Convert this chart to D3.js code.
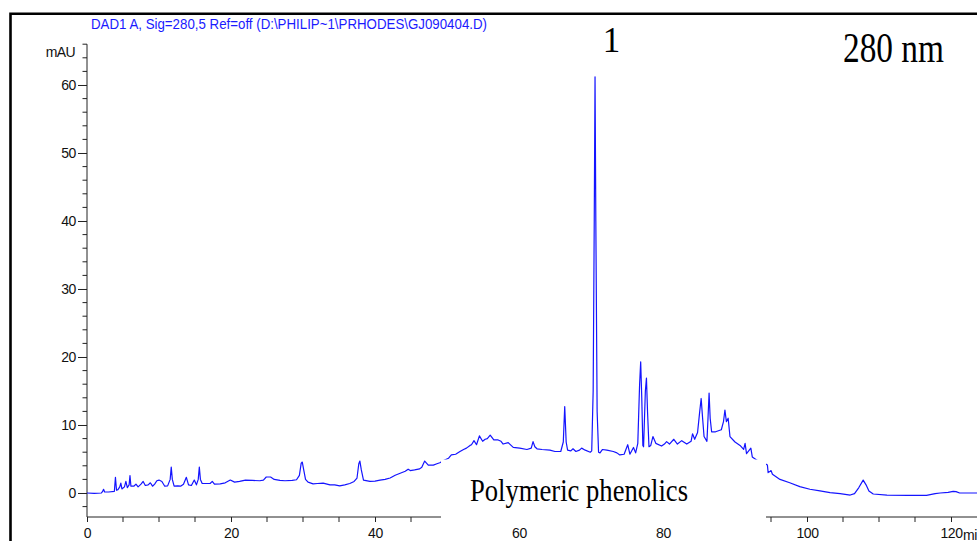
<!DOCTYPE html>
<html>
<head>
<meta charset="utf-8">
<script src="https://cdn.jsdelivr.net/npm/d3@7/dist/d3.min.js"></script>
<style>
  html, body { margin: 0; padding: 0; background: #fff; }
  svg { display: block; }
</style>
</head>
<body>
<svg id="chart" width="977" height="541"></svg>
<script>
// DAD1 A chromatogram at 280 nm: retention time (min) vs absorbance (mAU)
const retentionTime = [
  0, 1.0, 2.0, 2.15, 2.3, 2.45, 3.0, 3.8, 3.95, 4.1, 4.3, 4.55, 4.7, 4.85, 5.2, 5.4, 5.6, 5.85, 5.97, 6.1,
  6.5, 6.8, 7.1, 7.5, 7.8, 8.1, 8.5, 8.8, 9.1, 9.4, 9.7, 10.0, 10.4, 10.8, 11.2, 11.55, 11.7, 11.85, 12.1, 12.6,
  13.0, 13.4, 13.8, 14.1, 14.5, 14.9, 15.2, 15.45, 15.6, 15.75, 16.0, 16.6, 17.1, 17.4, 17.7, 18.5, 19.2, 19.9, 20.5, 21.2,
  22.0, 23.0, 24.0, 24.5, 24.9, 25.5, 26.0, 26.8, 27.5, 28.5, 29.1, 29.5, 29.75, 29.9, 30.1, 30.35, 30.7, 31.4, 32.0, 32.8,
  33.75, 34.4, 35.1, 35.8, 36.5, 37.1, 37.5, 37.75, 37.9, 38.1, 38.4, 39.3, 40.0, 40.7, 41.4, 42.1, 42.8, 43.5, 44.2, 44.6,
  44.9, 45.5, 46.2, 46.5, 46.9, 47.4, 48.1, 48.6, 49.0, 49.6, 50.2, 50.6, 51.2, 51.8, 52.3, 52.7, 53.2, 53.4, 53.75, 54.1,
  54.5, 54.95, 55.3, 55.6, 56.0, 56.5, 57.1, 57.5, 57.8, 58.5, 59.2, 60.1, 61.1, 61.7, 61.95, 62.2, 62.5, 63.2, 64.3, 65.0,
  65.8, 66.15, 66.35, 66.55, 66.75, 67.2, 67.5, 67.9, 68.4, 68.7, 69.2, 69.9, 70.1, 70.3, 70.45, 70.56, 70.67, 70.85, 71.05, 71.25,
  71.6, 72.2, 73.1, 73.6, 74.0, 74.6, 75.1, 75.4, 75.9, 76.2, 76.5, 76.75, 76.9, 77.05, 77.2, 77.3, 77.55, 77.7, 77.85, 78.05,
  78.3, 78.6, 79.0, 79.8, 80.2, 80.5, 80.9, 81.5, 82.0, 82.6, 83.3, 83.9, 84.1, 84.4, 84.8, 85.1, 85.3, 85.5, 85.7, 86.1,
  86.25, 86.4, 86.55, 86.75, 87.3, 88.1, 88.4, 88.6, 88.8, 89.05, 89.3, 90.0, 90.7, 91.2, 91.4, 91.6, 92.2, 92.4, 93.0, 93.6,
  94.2, 94.5, 94.6, 94.85, 95.0, 95.2, 96.25, 97.6, 99.0, 100.4, 101.8, 103.2, 104.6, 106.0, 106.6, 107.2, 107.8, 108.2, 108.6, 109.2,
  111.1, 114.0, 116.6, 117.8, 118.5, 119.6, 120.3, 120.7, 121.2, 122.2, 123.7
];
const absorbance = [
  0.0, -0.05, 0.0, 0.2, 0.55, 0.15, 0.15, 0.25, 2.3, 0.4, 0.5, 0.9, 1.45, 0.6, 0.9, 1.7, 0.8, 1.2, 2.55, 1.0,
  1.0, 1.3, 0.9, 1.3, 1.7, 1.1, 1.2, 1.5, 1.0, 1.3, 1.8, 1.9, 1.7, 1.0, 1.05, 2.0, 3.8, 2.0, 1.0, 1.05,
  1.0, 1.3, 2.3, 1.2, 1.1, 1.9, 1.2, 2.0, 3.8, 2.0, 1.4, 1.4, 1.4, 1.7, 1.3, 1.35, 1.5, 1.9, 1.6, 1.7,
  1.9, 1.85, 1.8, 1.9, 2.35, 2.35, 2.0, 1.85, 1.8, 1.85, 1.95, 2.6, 4.4, 4.55, 3.4, 2.0, 1.6, 1.35, 1.4, 1.45,
  1.2, 1.2, 1.05, 1.2, 1.4, 1.7, 2.2, 4.3, 4.7, 3.4, 1.9, 1.7, 1.75, 1.9, 2.0, 2.2, 2.6, 2.9, 3.2, 3.5,
  3.3, 3.4, 3.55, 3.8, 4.7, 4.1, 4.1, 4.3, 4.45, 4.8, 5.1, 5.6, 5.7, 6.1, 6.4, 6.6, 7.0, 7.1, 7.7, 7.1,
  8.4, 7.6, 7.9, 8.0, 8.5, 7.8, 7.8, 7.6, 7.2, 7.4, 6.7, 6.6, 6.4, 6.6, 7.55, 6.8, 6.5, 6.4, 6.3, 6.1,
  6.1, 7.5, 12.7, 7.5, 6.3, 6.2, 6.5, 6.1, 6.3, 6.6, 6.3, 6.0, 6.2, 15, 40, 61.2, 40, 12, 6.0, 5.9,
  6.4, 6.3, 6.1, 5.9, 5.6, 5.7, 7.1, 5.7, 6.7, 5.9, 7.3, 16, 19.3, 14, 7.0, 6.8, 15, 16.9, 12, 6.8,
  7.0, 8.3, 7.3, 6.9, 7.2, 7.55, 7.2, 7.9, 7.2, 7.7, 7.2, 7.6, 8.7, 7.9, 8.9, 12, 13.9, 11, 8.3, 7.6,
  11, 14.7, 11, 9.0, 9.0, 9.3, 10.5, 12.2, 10.5, 11.0, 8.3, 7.5, 7.0, 6.4, 7.3, 5.8, 6.6, 5.3, 4.85, 4.6,
  4.3, 4.1, 3.0, 3.15, 3.3, 2.75, 2.0, 1.5, 0.93, 0.55, 0.3, 0.05, -0.1, -0.3, -0.1, 0.8, 1.9, 1.2, 0.3, -0.15,
  -0.3, -0.35, -0.35, -0.1, 0.0, 0.1, 0.25, 0.2, 0.0, 0.0, 0.0
];

// Axis ticks
const xMajorTicks = [0, 20, 40, 60, 80, 100, 120];
const xMinorTicks = [5, 10, 15, 25, 30, 35, 45, 50, 55, 65, 70, 75, 85, 90, 95, 105, 110, 115];
const yMajorTicks = [0, 10, 20, 30, 40, 50, 60];
const yMinorTicks = [-2, 2, 4, 6, 8, 12, 14, 16, 18, 22, 24, 26, 28, 32, 34, 36, 38, 42, 44, 46, 48, 52, 54, 56, 58, 62, 64, 66];

const svg = d3.select("#chart");
const axisColor = "#222";
const traceColor = "#1414ff";

const x = d3.scaleLinear().domain([0, 123.61]).range([87, 977]);
const y = d3.scaleLinear().domain([-3.53, 66]).range([517, 44.2]);

// Outer frame (top and left edges)
svg.append("path")
  .attr("d", "M10.5,545 L10.5,13.8 L980,13.8")
  .attr("fill", "none")
  .attr("stroke", "#000")
  .attr("stroke-width", 2.6);

// Signal description
svg.append("text")
  .attr("x", 91).attr("y", 29)
  .attr("font-family", "'Liberation Sans', Arial, sans-serif")
  .attr("font-size", 14.5)
  .attr("fill", "#1a1aff")
  .attr("textLength", 396)
  .attr("lengthAdjust", "spacingAndGlyphs")
  .text("DAD1 A, Sig=280,5 Ref=off (D:\\PHILIP~1\\PRHODES\\GJ090404.D)");

// Y axis
const yAxisG = svg.append("g").attr("transform", "translate(87,0)");
yAxisG.append("line")
  .attr("x1", 0).attr("x2", 0)
  .attr("y1", y(66)).attr("y2", y(-3.53))
  .attr("stroke", axisColor).attr("stroke-width", 1);
yAxisG.call(
  d3.axisLeft(y).tickValues(yMajorTicks).tickSize(9).tickPadding(2).tickSizeOuter(0)
)
  .call(g => g.select(".domain").remove())
  .call(g => g.selectAll(".tick line").attr("stroke", axisColor))
  .call(g => g.selectAll(".tick text")
    .attr("font-family", "'Liberation Sans', Arial, sans-serif")
    .attr("font-size", 14)
    .attr("letter-spacing", -0.4)
    .attr("fill", "#111"));
yAxisG.selectAll(".minor")
  .data(yMinorTicks)
  .join("line")
  .attr("class", "minor")
  .attr("x1", -4.5).attr("x2", 0)
  .attr("y1", d => y(d)).attr("y2", d => y(d))
  .attr("stroke", axisColor);

svg.append("text")
  .attr("x", 75).attr("y", 57)
  .attr("text-anchor", "end")
  .attr("font-family", "'Liberation Sans', Arial, sans-serif")
  .attr("font-size", 14)
  .attr("letter-spacing", -0.6)
  .attr("fill", "#111")
  .text("mAU");

// X axis
const xAxisG = svg.append("g").attr("transform", "translate(0,517)");
xAxisG.append("line")
  .attr("x1", x(0)).attr("x2", 980)
  .attr("y1", 0).attr("y2", 0)
  .attr("stroke", axisColor).attr("stroke-width", 1);
xAxisG.call(
  d3.axisBottom(x).tickValues(xMajorTicks).tickSize(5).tickPadding(6).tickSizeOuter(0)
)
  .call(g => g.select(".domain").remove())
  .call(g => g.selectAll(".tick line").attr("stroke", axisColor))
  .call(g => g.selectAll(".tick text")
    .attr("font-family", "'Liberation Sans', Arial, sans-serif")
    .attr("font-size", 14)
    .attr("letter-spacing", -0.4)
    .attr("fill", "#111"));
xAxisG.selectAll(".minor")
  .data(xMinorTicks)
  .join("line")
  .attr("class", "minor")
  .attr("x1", d => x(d)).attr("x2", d => x(d))
  .attr("y1", 0).attr("y2", 5)
  .attr("stroke", axisColor);

svg.append("text")
  .attr("x", x(120) + 12).attr("y", 540)
  .attr("font-family", "'Liberation Sans', Arial, sans-serif")
  .attr("font-size", 14)
  .attr("letter-spacing", -0.4)
  .attr("fill", "#111")
  .text("min");

// Chromatogram trace
const points = retentionTime.map((t, i) => [t, absorbance[i]]);
const line = d3.line().x(d => x(d[0])).y(d => y(d[1])).curve(d3.curveLinear);
svg.append("path")
  .datum(points)
  .attr("d", line)
  .attr("fill", "none")
  .attr("stroke", traceColor)
  .attr("stroke-width", 1.2)
  .attr("stroke-linejoin", "round");

// Annotation for the broad polymeric hump, on a white label box
svg.append("rect")
  .attr("x", 441).attr("y", 459.5)
  .attr("width", 325).attr("height", 63)
  .attr("fill", "#fff");
svg.append("text")
  .attr("x", 470).attr("y", 501)
  .attr("font-family", "'Liberation Serif', 'Times New Roman', serif")
  .attr("font-size", 32)
  .attr("textLength", 218)
  .attr("lengthAdjust", "spacingAndGlyphs")
  .attr("fill", "#000")
  .text("Polymeric phenolics");

// Peak number and wavelength labels
svg.append("text")
  .attr("x", 611.5).attr("y", 52)
  .attr("text-anchor", "middle")
  .attr("font-family", "'Liberation Serif', 'Times New Roman', serif")
  .attr("font-size", 35)
  .attr("fill", "#000")
  .text("1");
svg.append("text")
  .attr("x", 843).attr("y", 62)
  .attr("font-family", "'Liberation Serif', 'Times New Roman', serif")
  .attr("font-size", 42)
  .attr("textLength", 101)
  .attr("lengthAdjust", "spacingAndGlyphs")
  .attr("fill", "#000")
  .text("280 nm");
</script>
</body>
</html>
